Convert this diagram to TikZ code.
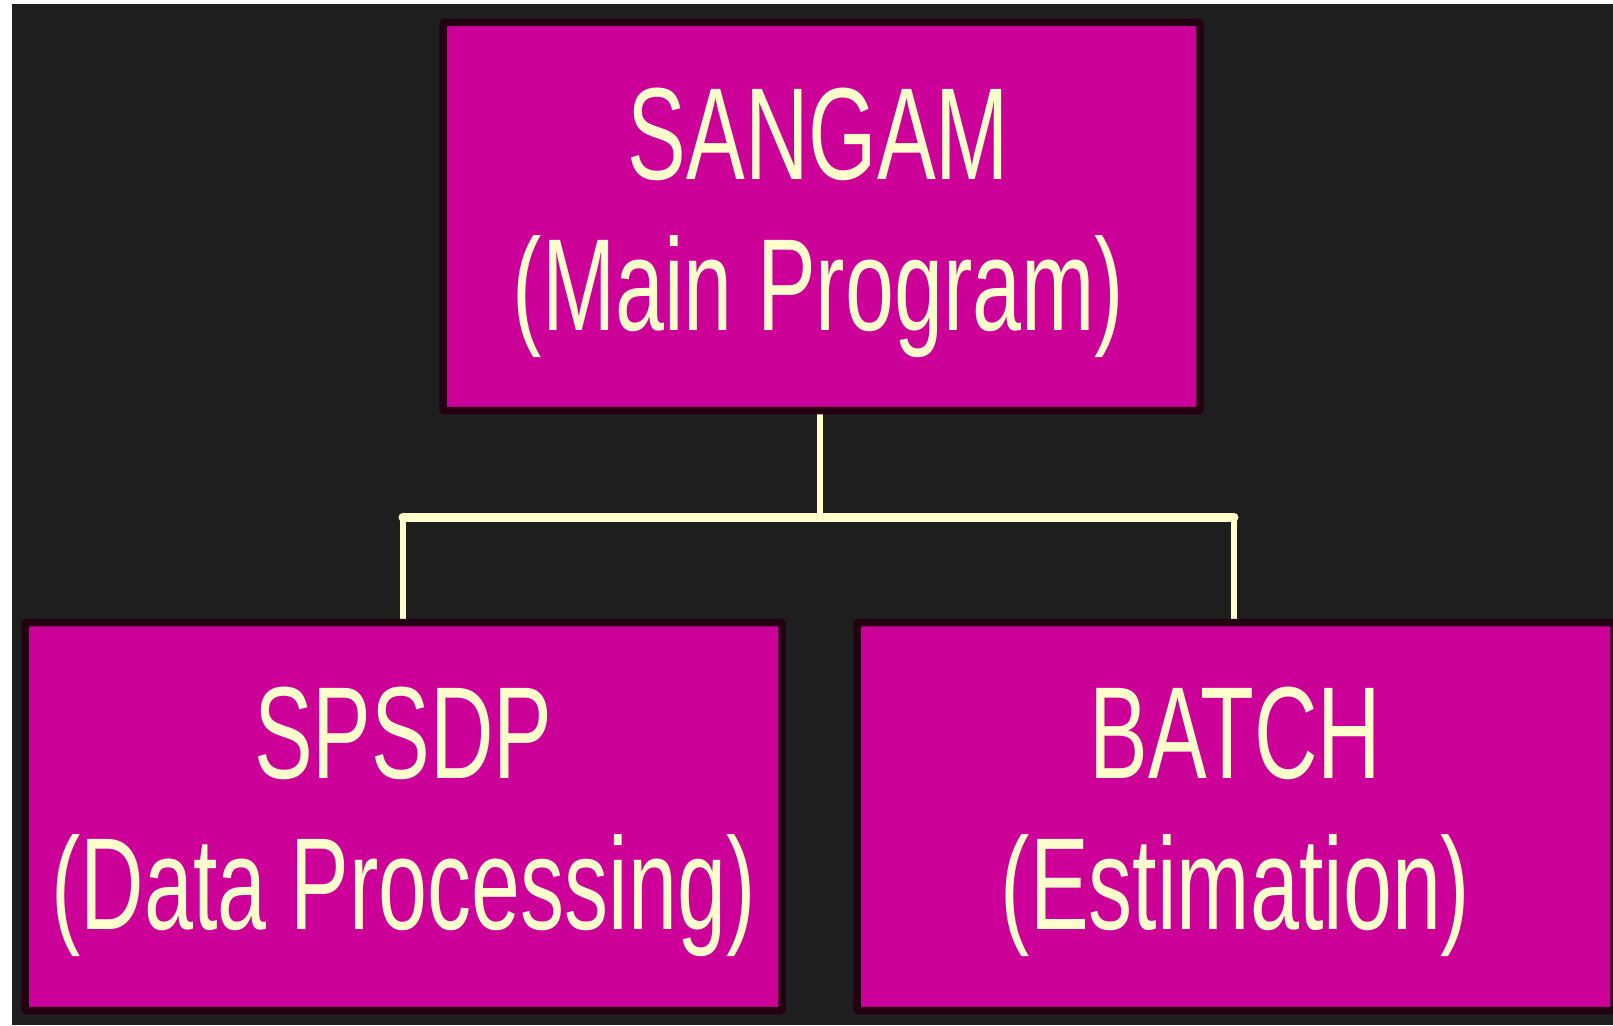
\documentclass[tikz,border=0pt]{standalone}
\usepackage{fontspec}
\setmainfont{Liberation Sans}[FakeStretch=0.672]
\definecolor{bgc}{HTML}{1E1E1E}
\definecolor{boxfill}{HTML}{CC0099}
\definecolor{boxline}{HTML}{240010}
\definecolor{txt}{HTML}{FFFFCC}
\pgfdeclarelayer{back}
\pgfsetlayers{back,main}
\tikzset{
  module/.style={draw=boxline, fill=boxfill, line width=7.5pt, rounded corners=1.5pt,
    minimum width=757pt, minimum height=388pt, inner sep=0pt},
  caption/.style={inner sep=0pt, align=center, text=txt,
    font=\fontsize{131}{151}\selectfont},
  conn/.style={draw=txt, line width=5.5pt},
  bar/.style={draw=txt, line width=9pt, line cap=round}
}
\begin{document}
\begin{tikzpicture}[x=1pt,y=-1pt]
\useasboundingbox (0,0) rectangle (1613,1025);
\node[module] (top) at (821.5,216.5) {};
\node[module] (left) at (403.5,816.5) {};
\node[module] (right) at (1235.5,816.5) {};
\node[caption] (toptext) at ([yshift=-6pt,xshift=-3pt]top.center) {SANGAM\\(Main Program)};
\node[caption] (lefttext) at ([yshift=-5pt]left.center) {SPSDP\\(Data Processing)};
\node[caption] (righttext) at ([yshift=-5pt]right.center) {BATCH\\(Estimation)};
\coordinate (bus) at (820,517);
\begin{pgfonlayer}{back}
\fill[white] (0,0) rectangle (1613,1025);
\fill[bgc] (12,4) rectangle (1613,1025);
\draw[conn] (top.south -| bus) -- (bus);
\draw[bar] (bus -| 403,0) -- (bus -| 1234,0);
\draw[conn] (bus -| 403,0) -- (left.north -| 403,0);
\draw[conn] (bus -| 1234,0) -- (right.north -| 1234,0);
\end{pgfonlayer}
\end{tikzpicture}
\end{document}
